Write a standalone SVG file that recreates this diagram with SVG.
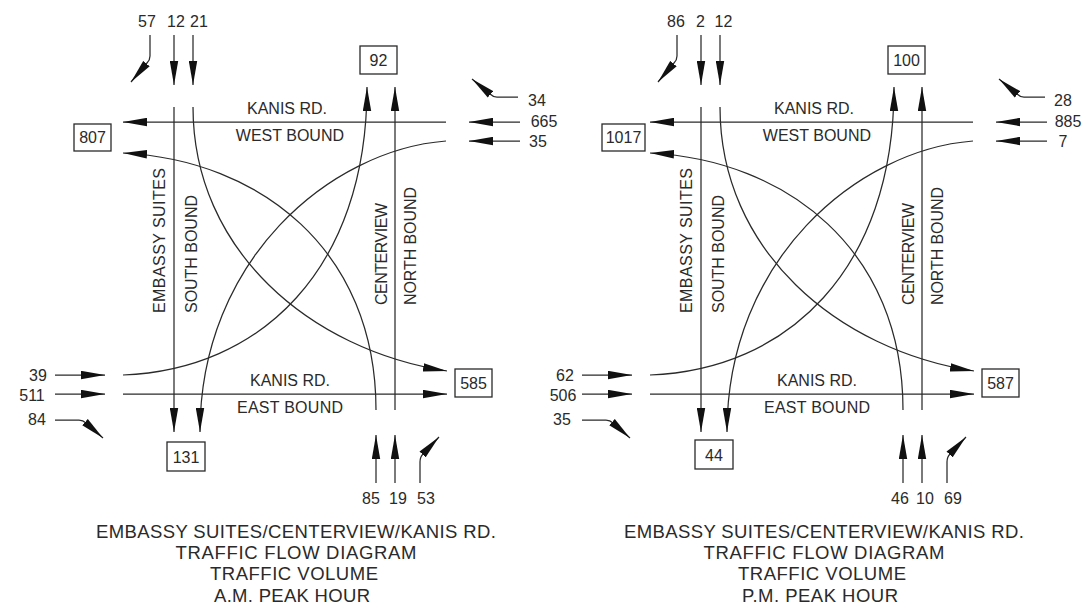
<svg xmlns="http://www.w3.org/2000/svg" width="1087" height="607" viewBox="0 0 1087 607">
<style>
.ln{fill:none;stroke:#2a2a2a;stroke-width:1.25}
.ar{marker-end:url(#ah)}
.bx{fill:#fff;stroke:#2a2a2a;stroke-width:1.3}
text{font-family:"Liberation Sans",Arial,sans-serif;fill:#2a2a2a}
.n{font-size:16px;text-anchor:middle}
.l{font-size:16px}
.t{font-size:18.5px;text-anchor:middle}
</style>
<defs>
<marker id="ah" viewBox="0 0 24 9" refX="24" refY="4.5" markerWidth="24" markerHeight="9" markerUnits="userSpaceOnUse" orient="auto">
<path d="M0,0.3 L24,4.5 L0,8.7 Z" fill="#111"/>
</marker>
</defs>
<rect width="1087" height="607" fill="#fff"/>

<!-- ================= A.M. DIAGRAM ================= -->
<g id="am">
<g id="am-connectors">
<path class="ln ar" d="M446,122 H123"/>
<path class="ln ar" d="M446,141 C330,150 200,260 200,432"/>
<path class="ln ar" d="M123,394 H447"/>
<path class="ln ar" d="M123,375 C260,370 367,270 367,87"/>
<path class="ln ar" d="M174,107 V432"/>
<path class="ln ar" d="M193,107 C193,250 310,350 447,371"/>
<path class="ln ar" d="M395,410 V87"/>
<path class="ln ar" d="M376,410 C376,250 260,160 123,153"/>
<path class="ln ar" d="M174,35 V85"/>
<path class="ln ar" d="M193,35 V85"/>
<path class="ln ar" d="M150,35 V56 Q150,60 147,63 L131,82"/>
<path class="ln ar" d="M55,375 H105"/>
<path class="ln ar" d="M55,394 H105"/>
<path class="ln ar" d="M55,420 H79 Q83,420 86,423 L103,438"/>
<path class="ln ar" d="M520,122 H469"/>
<path class="ln ar" d="M520,141 H469"/>
<path class="ln ar" d="M518,97 H497 Q493,97 490,94 L472,79"/>
<path class="ln ar" d="M376,483 V435"/>
<path class="ln ar" d="M395,483 V435"/>
<path class="ln ar" d="M420,483 V462 Q420,457 423,454 L439,437"/>
</g>
<g id="am-box-807"><rect class="bx" x="74" y="124" width="37" height="27"/><text class="n" x="92.5" y="143">807</text></g>
<g id="am-box-92"><rect class="bx" x="360" y="46" width="37" height="28"/><text class="n" x="378.5" y="66">92</text></g>
<g id="am-box-585"><rect class="bx" x="455" y="369" width="37" height="28"/><text class="n" x="473.5" y="389">585</text></g>
<g id="am-box-131"><rect class="bx" x="167" y="442" width="38" height="29"/><text class="n" x="186" y="463">131</text></g>
<g id="am-sb-in"><text class="n" x="147" y="27">57</text><text class="n" x="176" y="27">12</text><text class="n" x="199" y="27">21</text></g>
<g id="am-eb-in"><text class="n" x="38" y="381">39</text><text class="n" x="32" y="401">511</text><text class="n" x="37" y="425">84</text></g>
<g id="am-wb-in"><text class="n" x="537" y="106">34</text><text class="n" x="544" y="127">665</text><text class="n" x="538" y="147">35</text></g>
<g id="am-nb-in"><text class="n" x="371" y="504">85</text><text class="n" x="398" y="504">19</text><text class="n" x="426" y="504">53</text></g>
<g id="am-labels">
<text class="l" x="247" y="114">KANIS RD.</text>
<text class="l" x="344" y="141" text-anchor="end">WEST BOUND</text>
<text class="l" x="250" y="386">KANIS RD.</text>
<text class="l" x="237" y="413" textLength="106">EAST BOUND</text>
<text class="l" transform="translate(165,313) rotate(-90)" textLength="145">EMBASSY SUITES</text>
<text class="l" transform="translate(197,313) rotate(-90)" textLength="118">SOUTH BOUND</text>
<text class="l" transform="translate(387,305) rotate(-90)" textLength="102">CENTERVIEW</text>
<text class="l" transform="translate(416,305) rotate(-90)" textLength="118">NORTH BOUND</text>
</g>
<g id="am-title">
<text class="t" x="296" y="538" textLength="400">EMBASSY SUITES/CENTERVIEW/KANIS RD.</text>
<text class="t" x="296" y="559" textLength="241">TRAFFIC FLOW DIAGRAM</text>
<text class="t" x="294" y="580" textLength="168">TRAFFIC VOLUME</text>
<text class="t" x="292" y="602" textLength="156">A.M. PEAK HOUR</text>
</g>
</g>

<!-- ================= P.M. DIAGRAM ================= -->
<g id="pm">
<g id="pm-connectors" transform="translate(527,0)">
<path class="ln ar" d="M446,122 H123"/>
<path class="ln ar" d="M446,141 C330,150 200,260 200,432"/>
<path class="ln ar" d="M123,394 H447"/>
<path class="ln ar" d="M123,375 C260,370 367,270 367,87"/>
<path class="ln ar" d="M174,107 V432"/>
<path class="ln ar" d="M193,107 C193,250 310,350 447,371"/>
<path class="ln ar" d="M395,410 V87"/>
<path class="ln ar" d="M376,410 C376,250 260,160 123,153"/>
<path class="ln ar" d="M174,35 V85"/>
<path class="ln ar" d="M193,35 V85"/>
<path class="ln ar" d="M150,35 V56 Q150,60 147,63 L131,82"/>
<path class="ln ar" d="M55,375 H105"/>
<path class="ln ar" d="M55,394 H105"/>
<path class="ln ar" d="M55,420 H79 Q83,420 86,423 L103,438"/>
<path class="ln ar" d="M520,122 H469"/>
<path class="ln ar" d="M520,141 H469"/>
<path class="ln ar" d="M518,97 H497 Q493,97 490,94 L472,79"/>
<path class="ln ar" d="M376,483 V435"/>
<path class="ln ar" d="M395,483 V435"/>
<path class="ln ar" d="M420,483 V462 Q420,457 423,454 L439,437"/>
</g>
<g id="pm-box-1017"><rect class="bx" x="602" y="124" width="43" height="27"/><text class="n" x="623.5" y="143">1017</text></g>
<g id="pm-box-100"><rect class="bx" x="888" y="46" width="37" height="28"/><text class="n" x="906.5" y="66">100</text></g>
<g id="pm-box-587"><rect class="bx" x="982" y="369" width="37" height="28"/><text class="n" x="1000.5" y="389">587</text></g>
<g id="pm-box-44"><rect class="bx" x="695" y="440" width="38" height="29"/><text class="n" x="714" y="461">44</text></g>
<g id="pm-sb-in"><text class="n" x="676" y="27">86</text><text class="n" x="700.5" y="27">2</text><text class="n" x="723.5" y="27">12</text></g>
<g id="pm-eb-in"><text class="n" x="565" y="381">62</text><text class="n" x="563" y="401">506</text><text class="n" x="562" y="425">35</text></g>
<g id="pm-wb-in"><text class="n" x="1063" y="106">28</text><text class="n" x="1068" y="127">885</text><text class="n" x="1063" y="147">7</text></g>
<g id="pm-nb-in"><text class="n" x="900" y="504">46</text><text class="n" x="925" y="504">10</text><text class="n" x="953" y="504">69</text></g>
<g id="pm-labels" transform="translate(527,0)">
<text class="l" x="247" y="114">KANIS RD.</text>
<text class="l" x="344" y="141" text-anchor="end">WEST BOUND</text>
<text class="l" x="250" y="386">KANIS RD.</text>
<text class="l" x="237" y="413" textLength="106">EAST BOUND</text>
<text class="l" transform="translate(165,313) rotate(-90)" textLength="145">EMBASSY SUITES</text>
<text class="l" transform="translate(197,313) rotate(-90)" textLength="118">SOUTH BOUND</text>
<text class="l" transform="translate(387,305) rotate(-90)" textLength="102">CENTERVIEW</text>
<text class="l" transform="translate(416,305) rotate(-90)" textLength="118">NORTH BOUND</text>
</g>
<g id="pm-title">
<text class="t" x="824" y="538" textLength="400">EMBASSY SUITES/CENTERVIEW/KANIS RD.</text>
<text class="t" x="824" y="559" textLength="241">TRAFFIC FLOW DIAGRAM</text>
<text class="t" x="822" y="580" textLength="168">TRAFFIC VOLUME</text>
<text class="t" x="820" y="602" textLength="156">P.M. PEAK HOUR</text>
</g>
</g>
</svg>
